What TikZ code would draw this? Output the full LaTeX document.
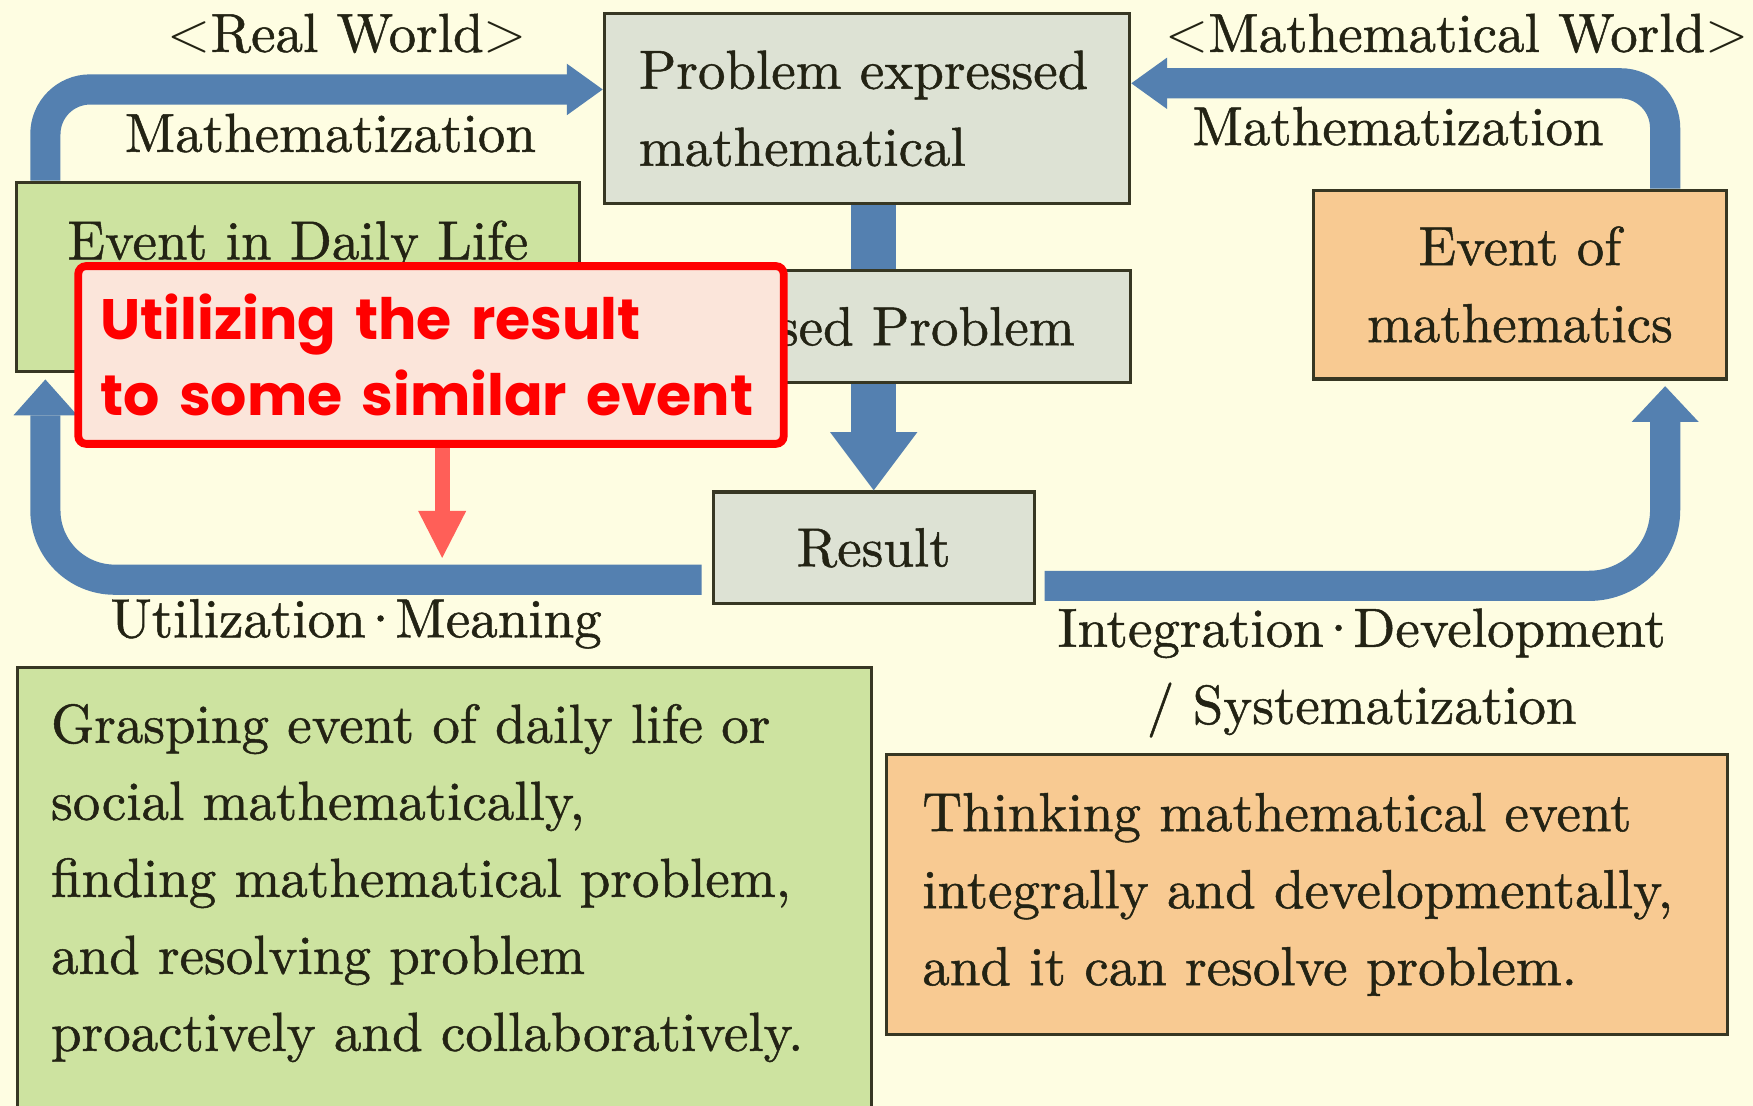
\documentclass[tikz,border=0pt]{standalone}
\usepackage{fontspec}
\usetikzlibrary{arrows.meta, positioning}
\setmainfont{lmroman10-regular}[Extension=.otf, FakeBold=0.9]
\newfontfamily\calloutfont{Poppins}
\newcommand\middot{\kern-0.12em·\kern-0.12em}
\definecolor{bgcream}  {RGB}{254, 253, 226}
\definecolor{boxgray}  {RGB}{221, 226, 212}
\definecolor{boxgreen} {RGB}{205, 227, 160}
\definecolor{boxorange}{RGB}{248, 202, 146}
\definecolor{edgedark} {RGB}{55,  55,  35}
\definecolor{flowblue} {RGB}{84,  128, 176}
\definecolor{hintred}  {RGB}{255, 0,   0}
\definecolor{hintpink} {RGB}{251, 229, 218}
\definecolor{hintarrow}{RGB}{255, 95,  88}
\definecolor{inkdark}  {RGB}{35,  35,  20}

\begin{document}
\begin{tikzpicture}[
  txt/.style={font=\fontsize{14}{19.6}\selectfont, text=inkdark, inner sep=0pt},
  box/.style={txt, draw=edgedark, line width=0.8pt},
  flow/.style={draw=flowblue, line width=0.27cm,
    -{Triangle[width=#1, length=0.32cm, line width=0pt]}},
  flow/.default=0.5cm,
  midflow/.style={draw=flowblue, line width=0.40cm},
  hint/.style={draw=hintred, line width=2pt, fill=hintpink, rounded corners=2pt,
    text=hintred, inner sep=0pt, align=left,
    font=\calloutfont\bfseries\fontsize{14.5}{19.3}\selectfont},
  hintflow/.style={draw=hintarrow, line width=0.135cm,
    -{Triangle[width=0.43cm, length=0.42cm, line width=0pt]}},
]

%% ─── frame ────────────────────────────────────────────────
%%  x in [0, 15.68], y in [-9.89, 0]  (1 unit = 100 px of the sketch)
\useasboundingbox (0,0) rectangle (15.68,-9.89);
\clip (0,0) rectangle (15.68,-9.89);
\fill[bgcream] (0,0) rectangle (15.68,-9.89);

% ── headings ────────────────────────────────────────────────
\node[txt] (realw) at (3.105,-0.30) {$<$Real World$>$};
\node[txt] (mathw) at (13.03,-0.30) {$<$Mathematical World$>$};

% ── boxes of the cycle ──────────────────────────────────────
\node[box, fill=boxgray, minimum width=4.70cm, minimum height=1.70cm,
  text width=4.08cm, align=left] (expr) at (7.755,-0.97)
  {Problem expressed\\mathematical};
\node[box, fill=boxgray, minimum width=4.70cm, minimum height=1.00cm]
  (focus) at (7.765,-2.92) {Focused Problem};
\node[box, fill=boxgray, minimum width=2.87cm, minimum height=1.00cm]
  (result) at (7.815,-4.90) {Result};

\node[box, fill=boxgreen, minimum width=5.03cm, minimum height=1.69cm]
  (daily) at (2.665,-2.475) {};
\node[txt, below=0.35cm of daily.north] (dailytxt) {Event in Daily Life};

\node[box, fill=boxorange, minimum width=3.69cm, minimum height=1.69cm,
  align=center] (mathev) at (13.595,-2.545) {Event of\\mathematics};

% ── blue flow arrows ────────────────────────────────────────
% daily life -> expressed problem
\draw[flow=0.46cm, rounded corners=0.40cm]
  ([xshift=0.27cm]daily.north west) |- ([yshift=0.17cm]expr.west);
% mathematics -> expressed problem
\draw[flow=0.46cm, rounded corners=0.40cm]
  ([xshift=-0.56cm]mathev.north east) |- ([yshift=0.225cm]expr.east);
% expressed -> focused -> result
\draw[midflow] (expr.south -| result.north) -- (focus.north -| result.north);
\draw[midflow, -{Triangle[width=0.78cm, length=0.52cm, line width=0pt]}]
  (focus.south -| result.north) -- (result.north);
% result -> daily life
\draw[flow=0.57cm, rounded corners=0.62cm]
  ([xshift=-0.09cm, yshift=-0.285cm]result.west)
  -| ([xshift=0.27cm, yshift=-0.06cm]daily.south west);
% result -> mathematics
\draw[flow=0.60cm, rounded corners=0.68cm]
  ([xshift=0.08cm, yshift=-0.34cm]result.east)
  -| ([xshift=-0.56cm, yshift=-0.05cm]mathev.south east);

% ── arrow labels ────────────────────────────────────────────
\node[txt] (mzleft)  at (2.955,-1.19)  {Mathematization};
\node[txt] (mzright) at (12.505,-1.13) {Mathematization};
\node[txt] (utilm)   at (3.185,-5.58)  {Utilization\middot Meaning};
\node[txt, align=center] (integ) at (12.18,-6.02)
  {Integration\middot Development\\/ Systematization};

% ── explanation boxes ───────────────────────────────────────
\node[box, fill=boxgreen, anchor=north west, minimum width=7.64cm,
  minimum height=4.40cm] (grasp) at (0.14,-5.96) {};
\node[txt, text width=7.02cm, align=left,
  below right=0.33cm and 0.31cm of grasp.north west] (grasptxt)
  {Grasping event of daily life or\\
   social mathematically,\\
   finding mathematical problem,\\
   and resolving problem\\
   proactively and collaboratively.};

\node[box, fill=boxorange, minimum width=7.52cm, minimum height=2.50cm,
  text width=6.88cm, align=left] (think) at (11.69,-8.00)
  {Thinking mathematical event\\
   integrally and developmentally,\\
   and it can resolve problem.};

% ── red call-out ────────────────────────────────────────────
\coordinate (hintend) at (3.955,-4.99);
\draw[hintflow] ([yshift=0.05cm]hintend |- 0,-3.97) -- (hintend);
\node[hint, minimum width=6.31cm, minimum height=1.59cm, text width=5.91cm]
  (callout) at (3.855,-3.175) {Utilizing the result\\to some similar event};

\end{tikzpicture}
\end{document}
